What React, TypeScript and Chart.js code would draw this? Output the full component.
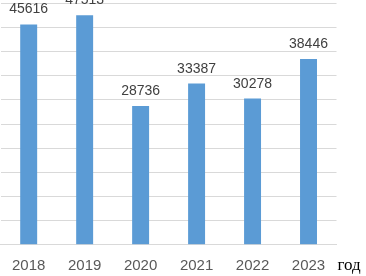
import React, { useEffect, useRef } from "react";
import { Chart, registerables } from "chart.js";

Chart.register(...registerables);

const categories = ["2018", "2019", "2020", "2021", "2022", "2023"];
const values = [45616, 47513, 28736, 33387, 30278, 38446];
const axisUnit = "год";

const labelPlugin = {
  id: "valueLabels",
  afterDatasetsDraw(chart: any) {
    const ctx = chart.ctx;
    const meta = chart.getDatasetMeta(0);
    ctx.save();
    ctx.font = "14px 'Liberation Sans', Arial, sans-serif";
    ctx.fillStyle = "#404040";
    ctx.textAlign = "center";
    ctx.textBaseline = "alphabetic";
    meta.data.forEach((bar: any, i: number) => {
      ctx.fillText(String(values[i]), bar.x, bar.y - 11);
    });
    ctx.font = "17px 'Liberation Serif', 'Times New Roman', serif";
    ctx.fillStyle = "#000000";
    ctx.textAlign = "left";
    ctx.textBaseline = "middle";
    ctx.fillText(axisUnit, chart.chartArea.right + 1, 266);
    ctx.restore();
  },
};

export default function App() {
  const ref = useRef<HTMLCanvasElement>(null);
  useEffect(() => {
    if (!ref.current) return;
    const chart = new Chart(ref.current, {
      type: "bar",
      data: {
        labels: categories,
        datasets: [
          {
            data: values,
            backgroundColor: "#5b9bd5",
            categoryPercentage: 1,
            barPercentage: 0.303,
          },
        ],
      },
      options: {
        animation: false,
        responsive: false,
        maintainAspectRatio: false,
        layout: { padding: { left: 0, right: 29.5, top: 3.3, bottom: 0 } },
        plugins: { legend: { display: false }, tooltip: { enabled: false } },
        scales: {
          x: {
            grid: { display: false, drawTicks: false },
            border: { display: true, color: "#d9d9d9" },
            ticks: {
              color: "#595959",
              padding: 12,
              maxRotation: 0,
              font: { family: "'Liberation Sans', Arial, sans-serif", size: 15 },
            },
            afterFit: (scale: any) => {
              scale.height = 31.3;
            },
          },
          y: {
            min: 0,
            max: 50000,
            ticks: { stepSize: 5000, display: false },
            grid: { color: "#d9d9d9", drawTicks: false },
            border: { display: false },
          },
        },
      },
      plugins: [labelPlugin],
    });
    return () => chart.destroy();
  }, []);
  return (
    <div style={{ position: "fixed", left: 0, top: 0, width: 366, height: 276, background: "#fff" }}>
      <canvas ref={ref} width={366} height={276} style={{ display: "block" }} />
    </div>
  );
}
